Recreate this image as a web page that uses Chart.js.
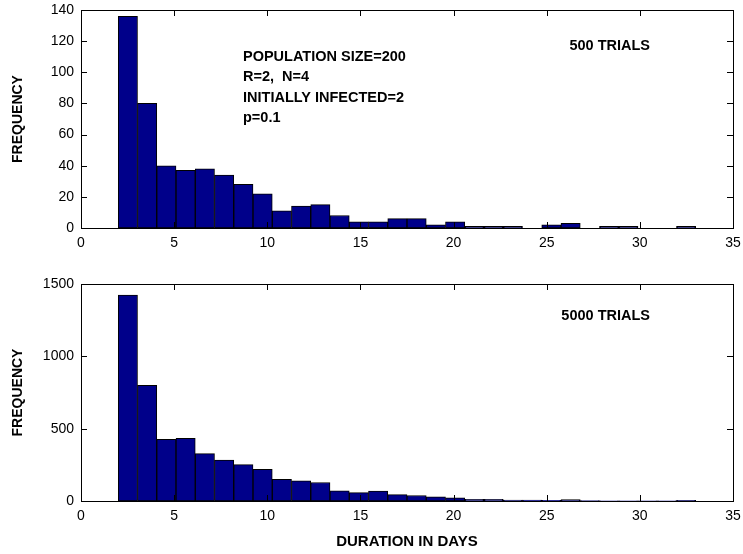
<!DOCTYPE html>
<html lang="en">
<head>
    <meta charset="UTF-8">
    <title>Epidemic Duration Histograms</title>
    <script src="https://cdn.jsdelivr.net/npm/chart.js"></script>
    <style>
        body {
            margin: 0;
            background: #ffffff;
        }
        .panel {
            position: absolute;
            left: 0;
        }
    </style>
</head>
<body>

    <div class="panel" style="top:0"><canvas id="topChart" width="743" height="270"></canvas></div>
    <div class="panel" style="top:270px"><canvas id="bottomChart" width="743" height="284"></canvas></div>

    <script>
        // histogram bins: 30 equal bins between shortest and longest duration
        const binStart = 2;
        const binEnd = 33;
        const binCount = 30;

        // frequencies
        const counts500 = [136, 80, 40, 37, 38, 34, 28, 22, 11, 14,
                           15, 8, 4, 4, 6, 6, 2, 4, 1, 1,
                           1, 0, 2, 3, 0, 1, 1, 0, 0, 1];
        const counts5000 = [1424, 800, 426, 433, 327, 283, 251, 219, 150, 139,
                            128, 71, 58, 69, 44, 38, 29, 22, 12, 11,
                            7, 6, 5, 10, 3, 2, 2, 1, 1, 4];

        const topNotes = ['POPULATION SIZE=200', 'R=2,  N=4', 'INITIALLY INFECTED=2', 'p=0.1'];
        const topTrials = '500 TRIALS';
        const bottomTrials = '5000 TRIALS';

        const xTitle = 'DURATION IN DAYS';
        const yTitle = 'FREQUENCY';

        const FONT = '"Liberation Sans", Arial, Helvetica, sans-serif';
        const BAR_COLOR = '#00008a';

        const binWidth = (binEnd - binStart) / binCount;
        function toPoints(counts) {
            return counts.map((c, i) => ({ x: binStart + (i + 0.5) * binWidth, y: c }));
        }

        // draws the boxed frame with inward tick marks on all four sides
        const frameTicks = {
            id: 'frameTicks',
            afterDatasetsDraw(chart) {
                const { ctx, chartArea: a, scales } = chart;
                const len = 6;
                ctx.save();
                ctx.strokeStyle = '#000';
                ctx.lineWidth = 1;
                ctx.beginPath();
                scales.x.ticks.forEach(t => {
                    const px = Math.round(scales.x.getPixelForValue(t.value)) + 0.5;
                    ctx.moveTo(px, a.bottom);
                    ctx.lineTo(px, a.bottom - len);
                    ctx.moveTo(px, a.top);
                    ctx.lineTo(px, a.top + len);
                });
                scales.y.ticks.forEach(t => {
                    const py = Math.round(scales.y.getPixelForValue(t.value)) + 0.5;
                    ctx.moveTo(a.left, py);
                    ctx.lineTo(a.left + len, py);
                    ctx.moveTo(a.right, py);
                    ctx.lineTo(a.right - len, py);
                });
                ctx.stroke();
                ctx.strokeRect(Math.round(a.left) + 0.5, Math.round(a.top) + 0.5,
                               Math.round(a.right - a.left), Math.round(a.bottom - a.top));
                ctx.restore();
            }
        };

        // annotation text inside the plot
        const notes = {
            id: 'notes',
            afterDraw(chart, args, opts) {
                const ctx = chart.ctx;
                ctx.save();
                ctx.fillStyle = '#000';
                ctx.font = 'bold 14.5px ' + FONT;
                ctx.textBaseline = 'middle';
                ctx.textAlign = 'left';
                (opts.lines || []).forEach((line, i) => {
                    ctx.fillText(line, 243, 57 + i * 20.3);
                });
                ctx.textAlign = 'right';
                ctx.fillText(opts.trials, 650, 45.5);
                ctx.restore();
            }
        };

        function makeChart(id, counts, yMax, yStep, cfg) {
            return new Chart(document.getElementById(id), {
                type: 'bar',
                data: {
                    datasets: [{
                        data: toPoints(counts),
                        backgroundColor: BAR_COLOR,
                        borderColor: '#000',
                        borderWidth: 1,
                        borderSkipped: false,
                        barPercentage: 1,
                        categoryPercentage: 1
                    }]
                },
                options: {
                    responsive: false,
                    animation: false,
                    events: [],
                    layout: { padding: cfg.padding },
                    plugins: {
                        legend: { display: false },
                        tooltip: { enabled: false },
                        notes: { lines: cfg.lines, trials: cfg.trials }
                    },
                    scales: {
                        x: {
                            type: 'linear',
                            min: 0,
                            max: 35,
                            offset: false,
                            grid: { display: false, drawTicks: false },
                            border: { display: false },
                            ticks: {
                                stepSize: 5,
                                padding: 7,
                                maxRotation: 0,
                                color: '#000',
                                font: { family: FONT, size: 14 },
                                callback: v => String(v)
                            },
                            title: {
                                display: cfg.showXTitle,
                                text: xTitle,
                                color: '#000',
                                padding: { top: 0, bottom: 3 },
                                font: { family: FONT, size: 15, weight: 'bold' }
                            },
                            afterFit(scale) {
                                scale.height = cfg.xHeight;
                                scale.paddingLeft = 0;
                                scale.paddingRight = 0;
                            }
                        },
                        y: {
                            min: 0,
                            max: yMax,
                            grid: { display: false, drawTicks: false },
                            border: { display: false },
                            ticks: {
                                stepSize: yStep,
                                padding: 7,
                                color: '#000',
                                font: { family: FONT, size: 14 },
                                callback: v => String(v)
                            },
                            title: {
                                display: true,
                                text: yTitle,
                                color: '#000',
                                padding: { top: 10, bottom: 0 },
                                font: { family: FONT, size: 14, weight: 'bold' }
                            },
                            afterFit(scale) {
                                scale.width = 81;
                                scale.paddingTop = 0;
                                scale.paddingBottom = 0;
                            }
                        }
                    }
                },
                plugins: [frameTicks, notes]
            });
        }

        makeChart('topChart', counts500, 140, 20, {
            padding: { left: 0, right: 10, top: 10, bottom: 0 },
            xHeight: 42,
            showXTitle: false,
            lines: topNotes,
            trials: topTrials
        });

        makeChart('bottomChart', counts5000, 1500, 500, {
            padding: { left: 0, right: 10, top: 14, bottom: 0 },
            xHeight: 53,
            showXTitle: true,
            lines: [],
            trials: bottomTrials
        });
    </script>

</body>
</html>
